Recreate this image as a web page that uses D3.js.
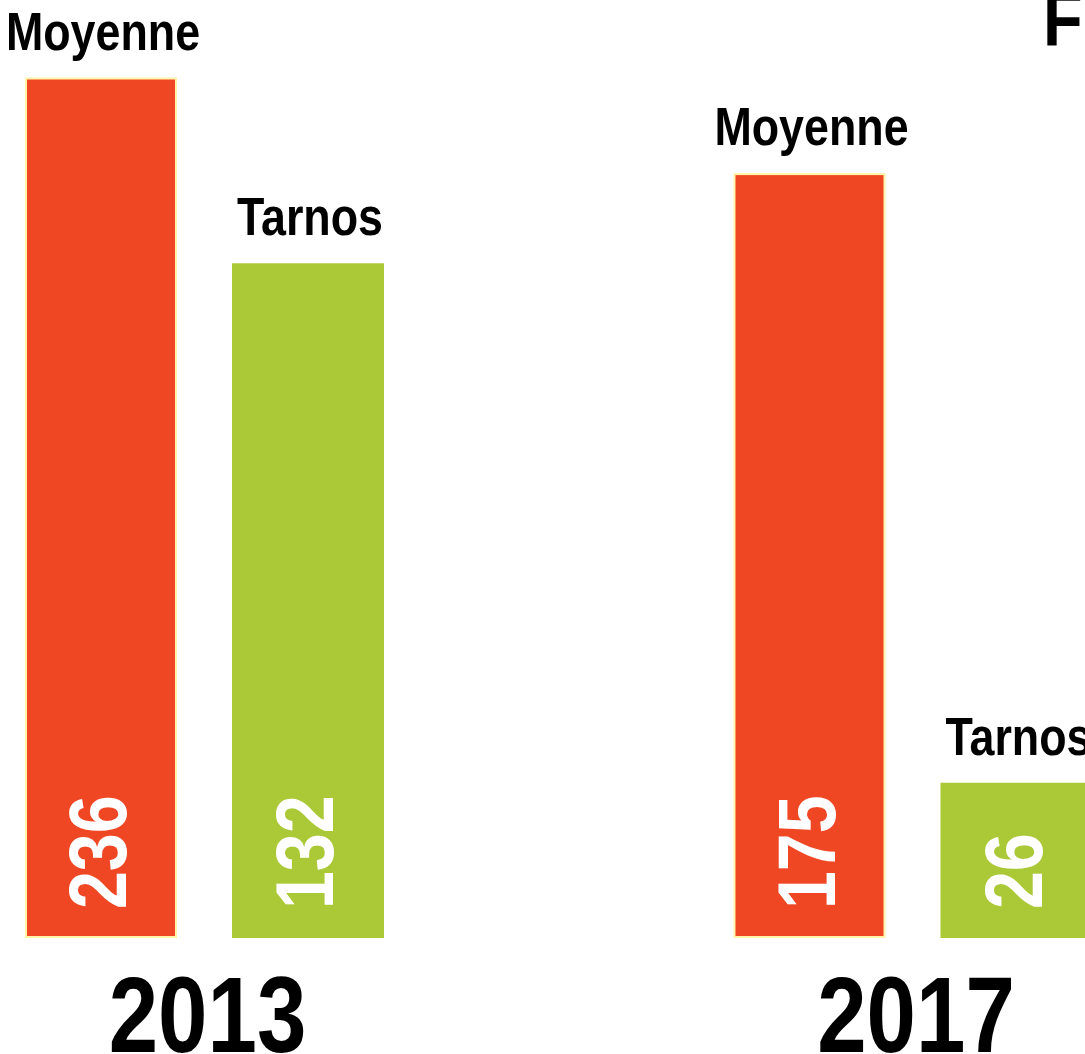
<!DOCTYPE html>
<html>
<head>
<meta charset="utf-8">
<script src="https://cdn.jsdelivr.net/npm/d3@7"></script>
<style>
  body { margin: 0; background: #fff; }
  text { font-family: "Liberation Sans", Arial, sans-serif; font-weight: bold; }
</style>
</head>
<body>
<div id="chart"></div>
<script>
const years = ['2013', '2017']
const series = ['Moyenne', 'Tarnos']
const moyenne = [236, 175]
const tarnos = [132, 26]
const title = 'F'

const width = 1085
const height = 1054
const baseY = 938
const narrow = 0.83 // fake a condensed face by squeezing the text

const colors = { Moyenne: '#ef4623', Tarnos: '#abc937' }

const data = []
years.forEach((y, i) => {
  data.push({ year: y, key: 'Moyenne', value: moyenne[i] })
  data.push({ year: y, key: 'Tarnos', value: tarnos[i] })
})

const svg = d3.select('#chart')
  .append('svg')
  .attr('width', width)
  .attr('height', height)

const x0 = d3.scalePoint()
  .domain(years)
  .range([204.5, 913])

const x1 = d3.scaleBand()
  .domain(series)
  .range([-179.5, 179.5])
  .paddingInner(55 / 207)

// bar heights in the original are not linear in the values, a log scale fits them
const yScale = d3.scaleLog()
  .domain([16, 236])
  .range([baseY, 77.5])

const cx = (d) => x0(d.year) + x1(d.key) + x1.bandwidth() / 2

const bars = svg.selectAll('g.bar')
  .data(data)
  .enter()
  .append('g')
  .attr('class', 'bar')

bars.append('rect')
  .attr('x', (d) => x0(d.year) + x1(d.key) + (d.key === 'Moyenne' ? 1 : 0))
  .attr('y', (d) => yScale(d.value) + (d.key === 'Moyenne' ? 1 : 0))
  .attr('width', (d) => x1.bandwidth() - (d.key === 'Moyenne' ? 2 : 0))
  .attr('height', (d) => baseY - yScale(d.value) - (d.key === 'Moyenne' ? 2 : 0))
  .attr('fill', (d) => colors[d.key])
  .attr('stroke', (d) => d.key === 'Moyenne' ? '#fff4a8' : 'none')
  .attr('stroke-width', 2)

// series name above each bar
bars.append('text')
  .attr('transform', (d) => `translate(${cx(d) + 2},${yScale(d.value) - 28}) scale(${narrow},1)`)
  .attr('text-anchor', 'middle')
  .attr('font-size', 54)
  .attr('fill', '#000')
  .text((d) => d.key)

// value, rotated, inside the bar
bars.append('text')
  .attr('transform', (d) => `translate(${cx(d) + 25},${baseY - 29}) rotate(-90) scale(${narrow},1)`)
  .attr('text-anchor', 'start')
  .attr('font-size', 82)
  .attr('fill', '#fff')
  .text((d) => d.value)

svg.selectAll('text.year')
  .data(years)
  .enter()
  .append('text')
  .attr('class', 'year')
  .attr('transform', (d) => `translate(${x0(d) + 3},1052) scale(${narrow},1)`)
  .attr('text-anchor', 'middle')
  .attr('font-size', 107)
  .attr('fill', '#000')
  .text((d) => d)

svg.append('text')
  .attr('transform', `translate(1043,46) scale(${narrow},1)`)
  .attr('font-size', 78)
  .attr('fill', '#000')
  .text(title)
</script>
</body>
</html>
